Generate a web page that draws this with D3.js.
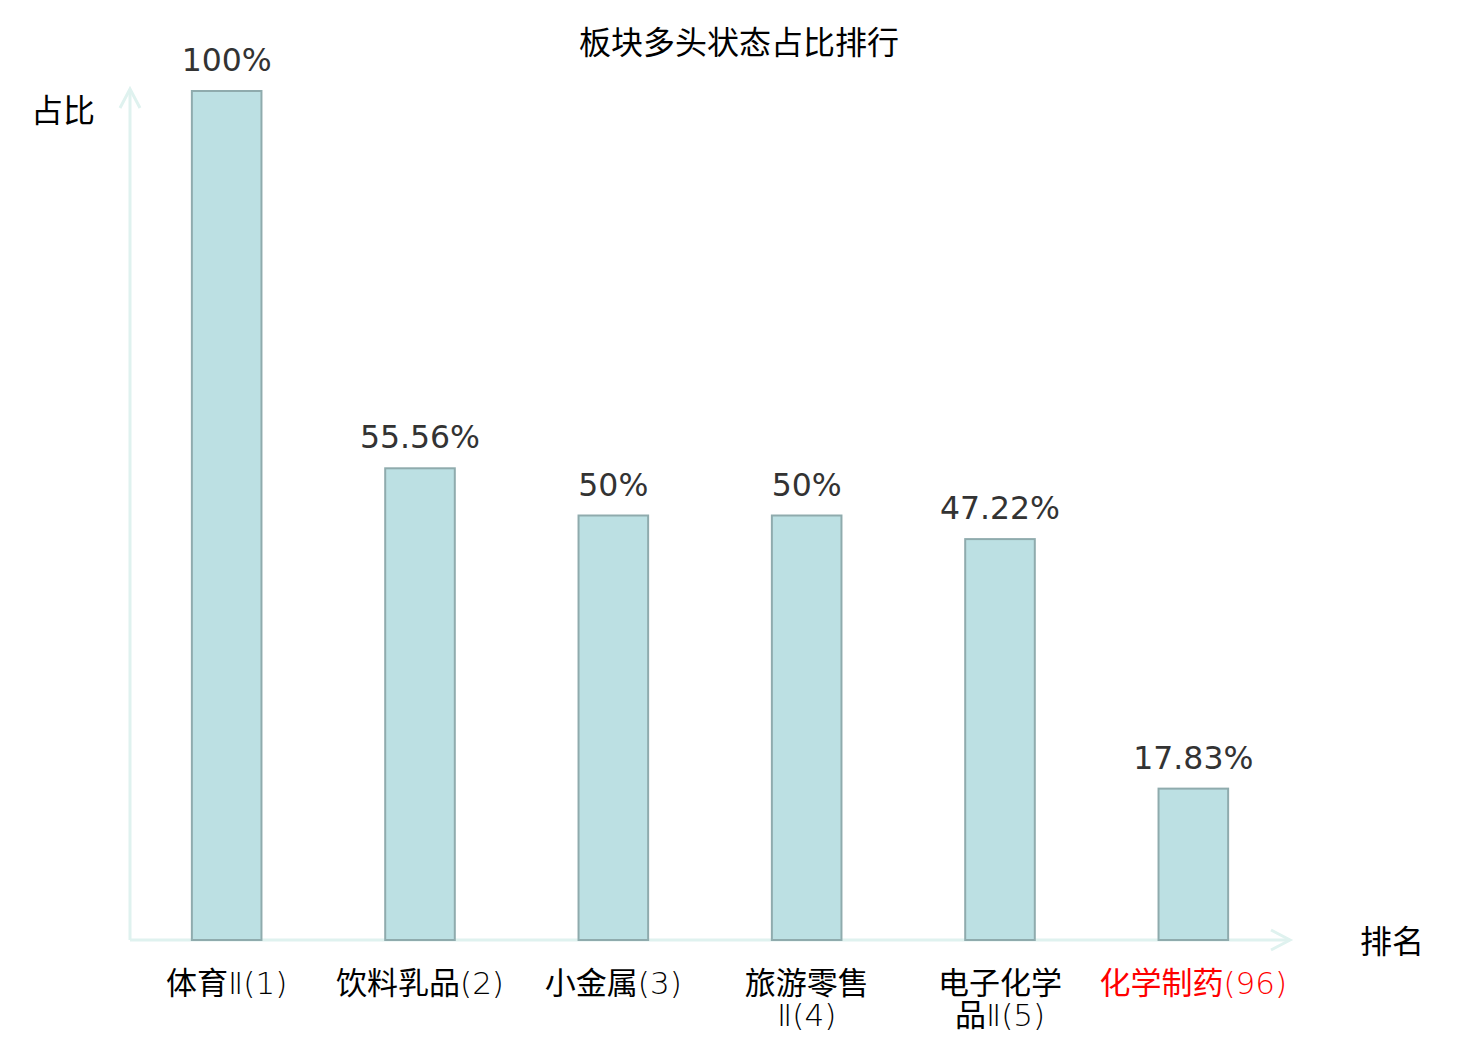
<!DOCTYPE html>
<html lang='zh'>
  <head>
    <meta charset='utf-8'>
    <title>板块多头状态占比排行</title>
    <script src='https://cdn.jsdelivr.net/npm/d3@7/dist/d3.min.js'></script>
    <style>
    body { margin: 0; background: #fff; }
    .cjk { font-family: 'Noto Sans CJK SC', 'Noto Sans', sans-serif; }
    .lat { font-family: 'DejaVu Sans', sans-serif; font-weight: 200; }
    .val { font-family: 'DejaVu Sans', sans-serif; font-size: 31.5px; fill: #333; }
    </style>
  </head>
  <body>
    <script>

    // data
    var names = ['体育Ⅱ', '饮料乳品', '小金属', '旅游零售Ⅱ', '电子化学品Ⅱ', '化学制药'];
    var ranks = [1, 2, 3, 4, 5, 96];
    var values = [100, 55.56, 50, 50, 47.22, 17.83];
    var valueLabels = ['100%', '55.56%', '50%', '50%', '47.22%', '17.83%'];
    var highlight = [false, false, false, false, false, true];

    var w = 1480, h = 1040;
    var plotLeft = 130, plotRight = 1290, plotBottom = 940, plotTop = 91;
    var axisColor = '#dff2ef';

    var svg = d3.select('body').append('svg')
      .attr('width', w)
      .attr('height', h);

    var x = d3.scaleBand()
      .domain(d3.range(names.length))
      .range([plotLeft, plotRight])
      .paddingInner(0.64)
      .paddingOuter(0.32);

    var y = d3.scaleLinear()
      .domain([0, 100])
      .range([plotBottom, plotTop]);

    // title
    svg.append('text')
      .attr('class', 'cjk')
      .attr('x', 739).attr('y', 54)
      .attr('text-anchor', 'middle')
      .attr('font-size', 32)
      .attr('fill', '#000')
      .text('板块多头状态占比排行');

    // axes with arrows
    var ax = svg.append('g')
      .attr('stroke', axisColor)
      .attr('stroke-width', 3)
      .attr('fill', 'none');
    ax.append('line')
      .attr('x1', plotLeft).attr('y1', plotBottom)
      .attr('x2', plotLeft).attr('y2', plotTop - 2);
    ax.append('path')
      .attr('d', 'M' + (plotLeft - 10) + ',' + (plotTop + 17) + 'L' + plotLeft + ',' + (plotTop - 2) + 'L' + (plotLeft + 10) + ',' + (plotTop + 17));
    ax.append('line')
      .attr('x1', plotLeft).attr('y1', plotBottom)
      .attr('x2', plotRight).attr('y2', plotBottom);
    ax.append('path')
      .attr('d', 'M' + (plotRight - 19) + ',' + (plotBottom - 10) + 'L' + plotRight + ',' + plotBottom + 'L' + (plotRight - 19) + ',' + (plotBottom + 10));

    svg.append('text')
      .attr('class', 'cjk')
      .attr('x', 63).attr('y', 122)
      .attr('text-anchor', 'middle')
      .attr('font-size', 32)
      .text('占比');

    svg.append('text')
      .attr('class', 'cjk')
      .attr('x', 1392).attr('y', 953)
      .attr('text-anchor', 'middle')
      .attr('font-size', 32)
      .text('排名');

    // bars
    svg.selectAll('rect.bar')
      .data(values)
      .enter()
      .append('rect')
      .attr('class', 'bar')
      .attr('x', function(d, i){ return x(i); })
      .attr('y', function(d){ return y(d); })
      .attr('width', x.bandwidth())
      .attr('height', function(d){ return plotBottom - y(d); })
      .attr('fill', '#bce0e3')
      .attr('stroke', '#8fabad')
      .attr('stroke-width', 2);

    // value labels
    svg.selectAll('text.val')
      .data(values)
      .enter()
      .append('text')
      .attr('class', 'val')
      .attr('x', function(d, i){ return x(i) + x.bandwidth() / 2; })
      .attr('y', function(d){ return y(d) - 20; })
      .attr('text-anchor', 'middle')
      .text(function(d, i){ return valueLabels[i]; });

    // category labels, name split every 4 chars, rank on last line
    function labelLines(name, rank){
      var chars = Array.from(name), lines = [];
      for (var i = 0; i < chars.length; i += 4){
        lines.push(chars.slice(i, i + 4).join(''));
      }
      lines[lines.length - 1] += '(' + rank + ')';
      return lines;
    }

    // split a line into CJK and latin runs (latin drawn thin)
    function runs(line){
      return line.match(/[\u4e00-\u9fff]+|[^\u4e00-\u9fff]+/g);
    }

    var cats = svg.selectAll('text.cat')
      .data(names)
      .enter()
      .append('text')
      .attr('class', 'cat cjk')
      .attr('font-size', 31)
      .attr('text-anchor', 'middle')
      .attr('fill', function(d, i){ return highlight[i] ? '#f00' : '#000'; });

    cats.each(function(d, i){
      var t = d3.select(this);
      labelLines(d, ranks[i]).forEach(function(line, k){
        var first = true;
        runs(line).forEach(function(r){
          var s = t.append('tspan')
            .attr('class', /[\u4e00-\u9fff]/.test(r) ? null : 'lat')
            .text(r);
          if (first){
            s.attr('x', x(i) + x.bandwidth() / 2).attr('y', 994 + k * 32);
            first = false;
          }
        });
      });
    });

    </script>
  </body>
</html>
